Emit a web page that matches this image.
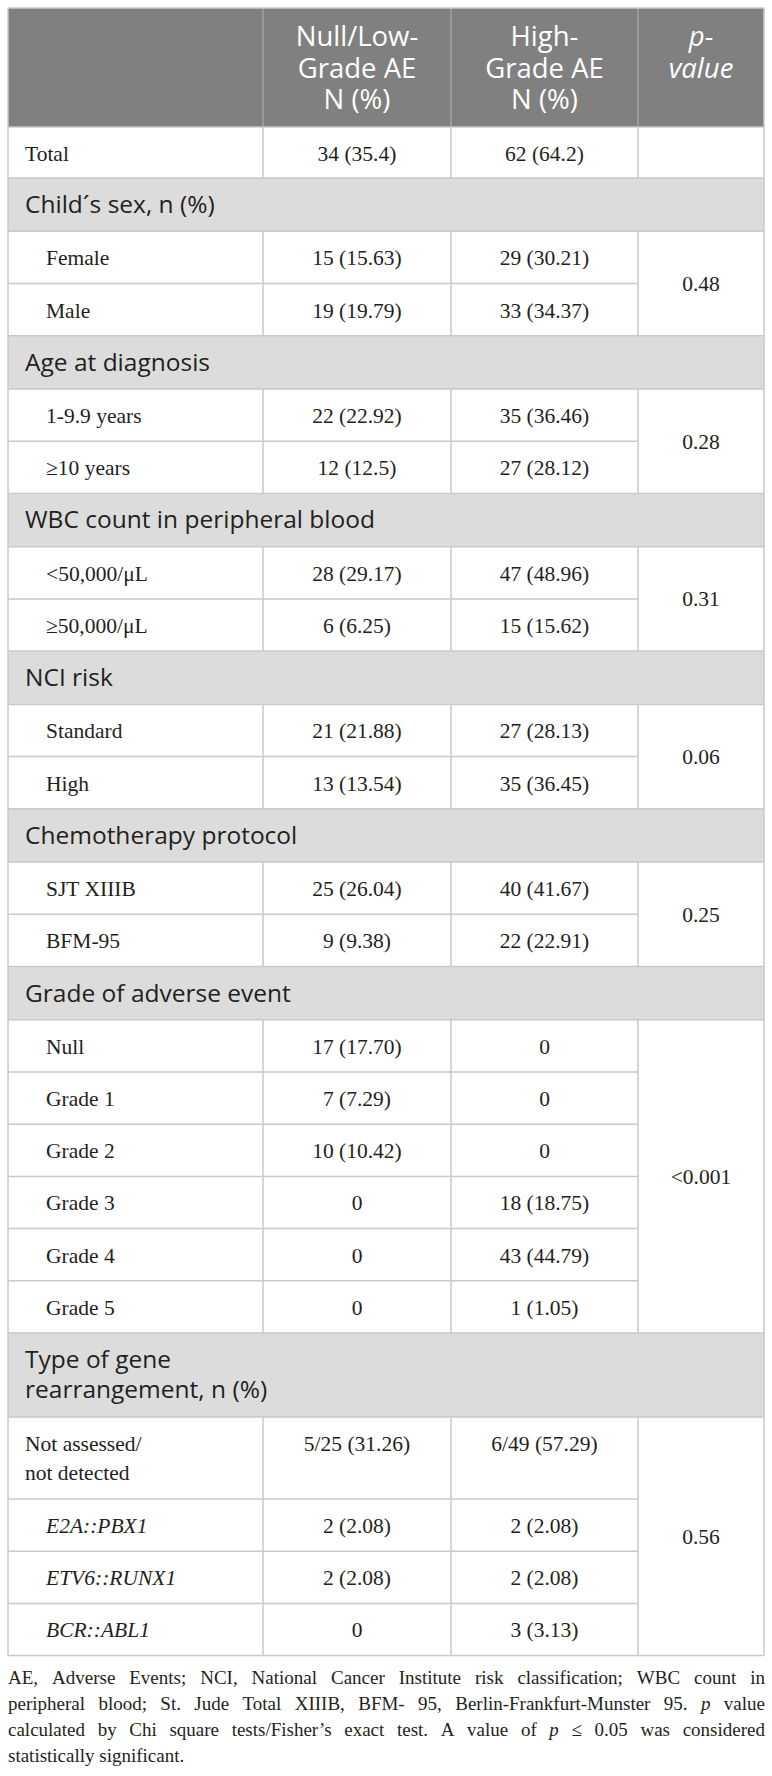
<!DOCTYPE html>
<html>
<head>
<meta charset="utf-8">
<script src="https://cdn.jsdelivr.net/npm/d3@7"></script>
<style>
  body { margin: 0; background: #fff; }
  svg { display: block; }
</style>
</head>
<body>
<div id="chart"></div>
<script>
const width = 772;
const height = 1776;

// ---- table content ----
const headerLines = [
  [],
  ["Null/Low-", "Grade AE", "N (%)"],
  ["High-", "Grade AE", "N (%)"],
  ["p-", "value"],
];

const totalRow = ["Total", "34 (35.4)", "62 (64.2)"];

const groups = [
  ["Child´s sex, n (%)"],
  ["Age at diagnosis"],
  ["WBC count in peripheral blood"],
  ["NCI risk"],
  ["Chemotherapy protocol"],
  ["Grade of adverse event"],
  ["Type of gene", "rearrangement, n (%)"],
];

const categories = [
  [["Female"], ["Male"]],
  [["1-9.9 years"], ["≥10 years"]],
  [["<50,000/μL"], ["≥50,000/μL"]],
  [["Standard"], ["High"]],
  [["SJT XIIIB"], ["BFM-95"]],
  [["Null"], ["Grade 1"], ["Grade 2"], ["Grade 3"], ["Grade 4"], ["Grade 5"]],
  [["Not assessed/", "not detected"], ["E2A::PBX1"], ["ETV6::RUNX1"], ["BCR::ABL1"]],
];

const lowGrade = [
  ["15 (15.63)", "19 (19.79)"],
  ["22 (22.92)", "12 (12.5)"],
  ["28 (29.17)", "6 (6.25)"],
  ["21 (21.88)", "13 (13.54)"],
  ["25 (26.04)", "9 (9.38)"],
  ["17 (17.70)", "7 (7.29)", "10 (10.42)", "0", "0", "0"],
  ["5/25 (31.26)", "2 (2.08)", "2 (2.08)", "0"],
];

const highGrade = [
  ["29 (30.21)", "33 (34.37)"],
  ["35 (36.46)", "27 (28.12)"],
  ["47 (48.96)", "15 (15.62)"],
  ["27 (28.13)", "35 (36.45)"],
  ["40 (41.67)", "22 (22.91)"],
  ["0", "0", "0", "18 (18.75)", "43 (44.79)", "1 (1.05)"],
  ["6/49 (57.29)", "2 (2.08)", "2 (2.08)", "3 (3.13)"],
];

const pValues = ["0.48", "0.28", "0.31", "0.06", "0.25", "<0.001", "0.56"];

const italicLabels = ["E2A::PBX1", "ETV6::RUNX1", "BCR::ABL1"];
const flushLabels = ["Not assessed/"];

const footnoteLines = [
  "AE, Adverse Events; NCI, National Cancer Institute risk classification; WBC count in",
  "peripheral blood; St. Jude Total XIIIB, BFM- 95, Berlin-Frankfurt-Munster 95. _p_ value",
  "calculated by Chi square tests/Fisher’s exact test. A value of _p_ ≤ 0.05 was considered",
  "statistically significant.",
];

// ---- layout ----
const colEdges = [8, 263, 451, 638, 764];
const tableTop = 8;
const headerBottom = 127;
const colCenter = (i) => (colEdges[i] + colEdges[i + 1]) / 2;

const serif = `"Liberation Serif", "Times New Roman", serif`;
const sans = `"Open Sans", "Noto Sans", sans-serif`;
const lineColor = "#c9c9c9";
const textColor = "#231f20";

// flatten the rows and stack them with a running y
let rows = [];
rows.push({ type: "total", lines: [totalRow[0]], low: totalRow[1], high: totalRow[2], h: 51 });
groups.forEach((g, gi) => {
  rows.push({ type: "group", lines: g, h: g.length > 1 ? 84 : 53.3, gi });
  categories[gi].forEach((c, ci) => {
    rows.push({
      type: "item",
      lines: c,
      low: lowGrade[gi][ci],
      high: highGrade[gi][ci],
      h: c.length > 1 ? 82 : 52.2,
      gi,
      ci,
    });
  });
});
let yy = headerBottom;
rows.forEach((r) => {
  r.y0 = yy;
  yy += r.h;
  r.y1 = yy;
});
const tableBottom = yy;

const svg = d3
  .select("#chart")
  .append("svg")
  .attr("width", width)
  .attr("height", height)
  .attr("viewBox", `0 0 ${width} ${height}`);

svg.append("rect").attr("width", width).attr("height", height).attr("fill", "#fff");

// header band
svg.append("rect")
  .attr("x", colEdges[0])
  .attr("y", tableTop)
  .attr("width", colEdges[4] - colEdges[0])
  .attr("height", headerBottom - tableTop)
  .attr("fill", "#808080");

svg.append("g")
  .selectAll("line")
  .data(colEdges.slice(1, 4))
  .join("line")
  .attr("x1", (d) => d).attr("x2", (d) => d)
  .attr("y1", tableTop).attr("y2", headerBottom)
  .attr("stroke", "#a3a3a3")
  .attr("stroke-width", 1.5);

// group bands
svg.append("g")
  .selectAll("rect")
  .data(rows.filter((r) => r.type === "group"))
  .join("rect")
  .attr("x", colEdges[0])
  .attr("y", (d) => d.y0)
  .attr("width", colEdges[4] - colEdges[0])
  .attr("height", (d) => d.h)
  .attr("fill", "#dcdcdc");

// grid lines
const grid = svg.append("g").attr("stroke", lineColor).attr("stroke-width", 1.5);

grid.selectAll("line.h")
  .data(rows)
  .join("line")
  .attr("class", "h")
  .attr("x1", colEdges[0])
  .attr("x2", (d) => (d.type === "item" && d.ci > 0 ? colEdges[3] : colEdges[4]))
  .attr("y1", (d) => d.y0)
  .attr("y2", (d) => d.y0);

grid.append("line")
  .attr("x1", colEdges[0]).attr("x2", colEdges[4])
  .attr("y1", tableBottom).attr("y2", tableBottom);

const cellRows = rows.filter((r) => r.type !== "group");
colEdges.slice(1, 4).forEach((x) => {
  grid.append("g")
    .selectAll("line")
    .data(cellRows)
    .join("line")
    .attr("x1", x).attr("x2", x)
    .attr("y1", (d) => d.y0)
    .attr("y2", (d) => d.y1);
});

[colEdges[0], colEdges[4]].forEach((x) => {
  grid.append("line")
    .attr("x1", x).attr("x2", x)
    .attr("y1", tableTop).attr("y2", tableBottom);
});
grid.append("line")
  .attr("x1", colEdges[0]).attr("x2", colEdges[4])
  .attr("y1", tableTop).attr("y2", tableTop);

// header text
const headerBaselines = [46, 77.5, 109];
headerLines.forEach((lines, i) => {
  svg.append("g")
    .selectAll("text")
    .data(lines)
    .join("text")
    .attr("x", colCenter(i))
    .attr("y", (d, j) => headerBaselines[j])
    .attr("text-anchor", "middle")
    .attr("fill", "#fff")
    .style("font-family", sans)
    .style("font-size", "27.5px")
    .style("font-style", i === 3 ? "italic" : "normal")
    .text((d) => d);
});

// group labels
svg.append("g")
  .selectAll("text")
  .data(rows.filter((r) => r.type === "group"))
  .join("text")
  .attr("x", 25)
  .attr("y", (d) => d.y0 + 35)
  .attr("fill", textColor)
  .style("font-family", sans)
  .style("font-size", "24.5px")
  .selectAll("tspan")
  .data((d) => d.lines)
  .join("tspan")
  .attr("x", 25)
  .attr("dy", (d, j) => (j === 0 ? 0 : 30))
  .text((d) => d);

// row labels and values
const body = svg.append("g")
  .attr("fill", textColor)
  .style("font-family", serif)
  .style("font-size", "21.5px");

body.selectAll("text.label")
  .data(cellRows)
  .join("text")
  .attr("class", "label")
  .attr("y", (d) => d.y0 + 34)
  .style("font-style", (d) => (italicLabels.includes(d.lines[0]) ? "italic" : "normal"))
  .selectAll("tspan")
  .data((d) => d.lines.map((t) => ({ t, x: d.type === "total" || flushLabels.includes(d.lines[0]) ? 25 : 46 })))
  .join("tspan")
  .attr("x", (d) => d.x)
  .attr("dy", (d, j) => (j === 0 ? 0 : 28.5))
  .text((d) => d.t);

[["low", 1], ["high", 2]].forEach(([key, ci]) => {
  body.append("g")
    .selectAll("text")
    .data(cellRows)
    .join("text")
    .attr("x", colCenter(ci))
    .attr("y", (d) => d.y0 + 34)
    .attr("text-anchor", "middle")
    .text((d) => d[key]);
});

// merged p-value cells
const pCells = groups.map((g, gi) => {
  const items = rows.filter((r) => r.type === "item" && r.gi === gi);
  return { p: pValues[gi], y0: items[0].y0, y1: items[items.length - 1].y1 };
});
body.append("g")
  .selectAll("text")
  .data(pCells)
  .join("text")
  .attr("x", colCenter(3))
  .attr("y", (d) => (d.y0 + d.y1) / 2 + 7.5)
  .attr("text-anchor", "middle")
  .text((d) => d.p);

// footnote, justified word by word
const foot = svg.append("g")
  .attr("fill", textColor)
  .style("font-family", serif)
  .style("font-size", "19px");

const footLeft = 8;
const footRight = 765;
footnoteLines.forEach((line, li) => {
  const words = line.split(" ").map((w) => ({
    text: w.replace(/_/g, ""),
    italic: /^_.*_$/.test(w),
  }));
  const texts = foot.append("g")
    .selectAll("text")
    .data(words)
    .join("text")
    .attr("y", 1684 + li * 26.1)
    .style("font-style", (d) => (d.italic ? "italic" : "normal"))
    .text((d) => d.text);
  const widths = [];
  texts.each(function () { widths.push(this.getComputedTextLength()); });
  const last = li === footnoteLines.length - 1;
  const gap = last ? 4.75 : (footRight - footLeft - d3.sum(widths)) / (words.length - 1);
  let x = footLeft;
  texts.attr("x", (d, i) => {
    const px = x;
    x += widths[i] + gap;
    return px;
  });
});
</script>
</body>
</html>
